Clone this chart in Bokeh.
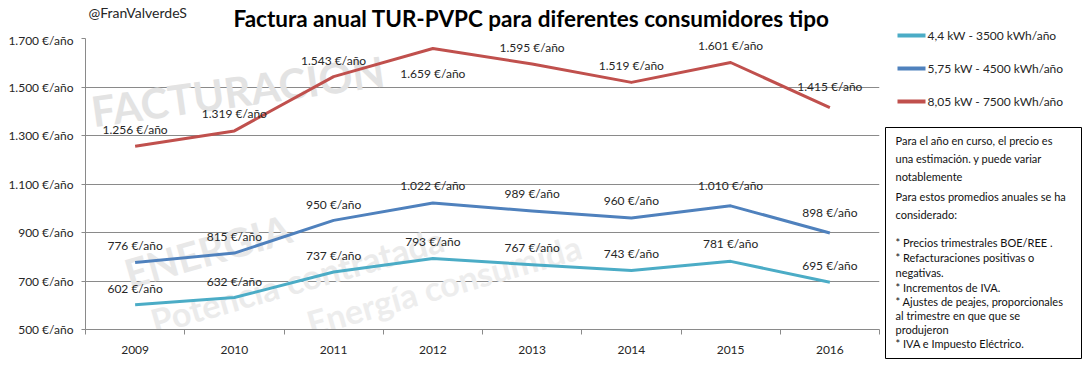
from bokeh.plotting import figure
from bokeh.models import ColumnDataSource, FixedTicker, LabelSet, Label, Range1d
from bokeh.layouts import row, column
from bokeh.embed import file_html
from bokeh.resources import INLINE
from bokeh.core.properties import value

# ---------------- data ----------------
years = ["2009", "2010", "2011", "2012", "2013", "2014", "2015", "2016"]
s1_name = "4,4 kW - 3500 kWh/año"
s1_values = [602, 632, 737, 793, 767, 743, 781, 695]
s2_name = "5,75 kW - 4500 kWh/año"
s2_values = [776, 815, 950, 1022, 989, 960, 1010, 898]
s3_name = "8,05 kW - 7500 kWh/año"
s3_values = [1256, 1319, 1543, 1659, 1595, 1519, 1601, 1415]
y_ticks = [500, 700, 900, 1100, 1300, 1500, 1700]
y_tick_labels = ["500 €/año", "700 €/año", "900 €/año", "1.100 €/año",
                 "1.300 €/año", "1.500 €/año", "1.700 €/año"]
title_text = "Factura anual TUR-PVPC para diferentes consumidores tipo"
author_text = "@FranValverdeS"
note_lines_a = ["Para el año en curso, el precio es",
                "una estimación. y puede variar",
                "notablemente",
                "Para estos promedios anuales se ha",
                "considerado:"]
note_lines_b = ["* Precios trimestrales BOE/REE .",
                "* Refacturaciones positivas o",
                "negativas.",
                "* Incrementos de IVA.",
                "* Ajustes de peajes, proporcionales",
                "al trimestre en que que se",
                "produjeron",
                "* IVA e Impuesto Eléctrico."]
watermark_words = ["FACTURACION", "ENERGIA", "Potencia contratada", "Energía consumida"]

# ---------------- style ----------------
FONT = "Lato"
COLORS = ["#4BACC6", "#4F81BD", "#C0504D"]
GRID = "#8a8a8a"
TXT = "#262626"
W1, W2, H_TOP, H = 883, 203, 32, 365
FRAME_L, FRAME_R = 85, 879
label_dy = [
    [16, 16, 17, 17, 17, 17, 18, 17],
    [17, 17, 16, 17, 17, 17, 20, 20],
    [17, 17, 16, -25, 16, 17, 17, 21],
]
# watermark placement (screen px from frame bottom-left): x, y, angle(deg), size, colour
watermark_style = [
    (6, 218, 8, "42px", "#e3e3e3"),
    (40, 55, 16, "40px", "#e8e8e8"),
    (66, 8, 16, "34px", "#ebebeb"),
    (222, 6, 16, "34px", "#ededed"),
]


def fmt(v):
    return f"{v:,}".replace(",", ".") + " €/año"


def blank(width, height, xr, yr):
    f = figure(width=width, height=height, x_range=Range1d(*xr), y_range=Range1d(yr, 0),
               output_backend="svg", toolbar_location=None, min_border=0,
               x_axis_location=None, y_axis_location=None)
    f.grid.visible = False
    f.outline_line_color = None
    return f


idx = list(range(len(years)))

# ---------------- title strip ----------------
top = blank(W1, H_TOP, (FRAME_L, FRAME_R), H_TOP)
top.text(x=[531], y=[18], text=[title_text], text_font=value(FONT), text_font_style="bold",
         text_font_size="22.5px", text_align="center", text_baseline="middle", text_color="#000000")
top.text(x=[88], y=[12], text=[author_text], text_font=value(FONT), text_font_size="14px",
         text_align="left", text_baseline="middle", text_color=TXT)

# ---------------- main chart ----------------
p = figure(width=W1, height=H - H_TOP, x_range=Range1d(-0.5, len(years) - 0.5),
           y_range=Range1d(y_ticks[0], y_ticks[-1]),
           output_backend="svg", toolbar_location=None,
           min_border_left=FRAME_L, min_border_right=W1 - FRAME_R, min_border_top=6,
           min_border_bottom=36)
p.outline_line_color = None
p.xgrid.visible = False
p.ygrid.grid_line_color = GRID

for word, (wx, wy, ang, sz, col) in zip(watermark_words, watermark_style):
    p.add_layout(Label(x=wx, y=wy, x_units="screen", y_units="screen", text=word,
                       angle=ang, angle_units="deg", text_font=FONT, text_font_style="bold",
                       text_font_size=sz, text_color=col, text_align="left",
                       text_baseline="alphabetic", level="underlay"))

p.yaxis.ticker = FixedTicker(ticks=y_ticks)
p.yaxis.major_label_overrides = {t: l for t, l in zip(y_ticks, y_tick_labels)}
p.yaxis.axis_line_color = GRID
p.yaxis.major_tick_line_color = GRID
p.yaxis.major_tick_out = 4
p.yaxis.major_tick_in = 0
p.yaxis.minor_tick_line_color = None
p.yaxis.major_label_standoff = 8
p.yaxis.major_label_text_font = FONT
p.yaxis.major_label_text_font_size = "12px"
p.yaxis.major_label_text_color = TXT

p.xaxis.ticker = FixedTicker(ticks=idx, minor_ticks=[i - 0.5 for i in range(len(years) + 1)])
p.xaxis.major_label_overrides = {i: y for i, y in zip(idx, years)}
p.xaxis.axis_line_color = GRID
p.xaxis.major_tick_line_color = None
p.xaxis.major_tick_out = 0
p.xaxis.major_tick_in = 0
p.xaxis.minor_tick_line_color = GRID
p.xaxis.minor_tick_out = 5
p.xaxis.minor_tick_in = 0
p.xaxis.major_label_standoff = 11
p.xaxis.major_label_text_font = FONT
p.xaxis.major_label_text_font_size = "12px"
p.xaxis.major_label_text_color = TXT

for vals, col, dys in zip([s1_values, s2_values, s3_values], COLORS, label_dy):
    src = ColumnDataSource(dict(x=idx, y=vals, t=[fmt(v) for v in vals], dy=dys))
    p.line("x", "y", source=src, line_color=col, line_width=3, line_join="round")
    p.add_layout(LabelSet(x="x", y="y", text="t", source=src, y_offset="dy",
                          text_align="center", text_baseline="middle",
                          text_font=value(FONT), text_font_size="12px",
                          text_color=TXT))

# ---------------- right panel: legend + note ----------------
q = blank(W2, H, (0, W2), H)
names = [s1_name, s2_name, s3_name]
leg_y = [35, 68, 101]
q.segment(x0=[14] * 3, x1=[42] * 3, y0=leg_y, y1=leg_y, line_color=COLORS, line_width=4)
q.text(x=[44] * 3, y=leg_y, text=names, text_font=value(FONT), text_font_size="12px",
       text_baseline="middle", text_align="left", text_color=TXT)

q.quad(left=[2], right=[198], top=[127], bottom=[358], fill_color="white", line_color="black",
       line_width=1)
ya = [140, 158, 176, 196, 214]
yb = [242, 257, 272, 287, 301, 315, 329, 343]
q.text(x=[12] * len(ya), y=ya, text=note_lines_a, text_font=value(FONT), text_font_size="11px",
       text_baseline="middle", text_align="left", text_color="#111111")
q.text(x=[12] * len(yb), y=yb, text=note_lines_b, text_font=value(FONT), text_font_size="11px",
       text_baseline="middle", text_align="left", text_color="#111111")

layout = row(column(top, p, spacing=0), q, spacing=0)
open("out.html", "w").write(file_html(layout, INLINE))
